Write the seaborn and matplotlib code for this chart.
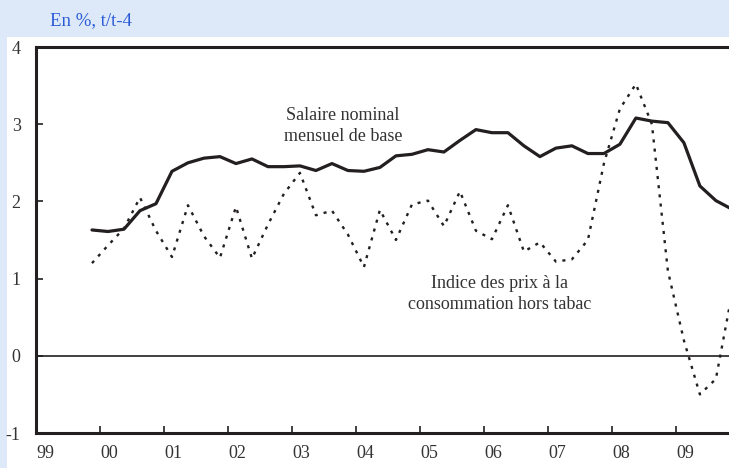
import numpy as np
import pandas as pd
import seaborn as sns
import matplotlib.pyplot as plt
from matplotlib.patches import Rectangle

# quarterly data, 1999Q4 -> 2009Q4 (yoy %, t/t-4)
quarters = pd.period_range('1999Q4', '2009Q4', freq='Q')
salaire = [1.63,
           1.61, 1.64, 1.88, 1.97,
           2.39, 2.50, 2.56, 2.58,
           2.49, 2.55, 2.45, 2.45,
           2.46, 2.40, 2.49, 2.40,
           2.39, 2.44, 2.59, 2.61,
           2.67, 2.64, 2.79, 2.93,
           2.89, 2.89, 2.72, 2.58,
           2.69, 2.72, 2.62, 2.62,
           2.74, 3.08, 3.04, 3.02,
           2.76, 2.20, 2.01, 1.90]
prix = [1.20,
        1.43, 1.65, 2.05, 1.62,
        1.28, 1.95, 1.55, 1.27,
        1.93, 1.26, 1.70, 2.10,
        2.37, 1.82, 1.88, 1.57,
        1.15, 1.89, 1.50, 1.96,
        2.01, 1.68, 2.13, 1.62,
        1.51, 1.95, 1.35, 1.47,
        1.22, 1.25, 1.50, 2.49,
        3.20, 3.52, 3.00, 1.10,
        0.20, -0.50, -0.30, 0.80]
years = list(range(1999, 2010))
year_labels = ['99', '00', '01', '02', '03', '04', '05', '06', '07', '08', '09']

# quarter -> decimal year, centred inside the quarter
xq = quarters.year + (quarters.quarter - 1) / 4 + 0.125
df = pd.DataFrame({'t': xq, 'salaire': salaire, 'prix': prix})

sns.set_style('ticks')
plt.rcParams['font.family'] = ['Liberation Serif', 'DejaVu Serif']

bg = '#dde9f8'
fig = plt.figure(figsize=(7.29, 4.68), dpi=100, facecolor=bg)
fig.patches.append(Rectangle((7 / 729, 0), 1, (468 - 37) / 468, transform=fig.transFigure,
                             facecolor='white', edgecolor='none', zorder=-5))
fig.text(50 / 729, 1 - 21 / 468, 'En %, t/t-4', color='#2a5bd7', fontsize=13.5,
         va='center', ha='left')

ax = fig.add_axes([36 / 729, 35 / 468, 1 - 36 / 729, (433 - 47) / 468])
ax.set_facecolor('none')

sns.lineplot(data=df, x='t', y='salaire', ax=ax, color='#231f20', lw=2.3)
sns.lineplot(data=df, x='t', y='prix', ax=ax, color='#231f20', lw=1.7,
             linestyle=(0, (1.3, 2.6)))
ax.axhline(0, color='#231f20', lw=1.2)

ax.set_xlim(1999, 2009.83)
ax.set_ylim(-1, 4)
ax.set_xticks(years)
ax.set_xticklabels(year_labels, ha='left')
ax.set_yticks([-1, 0, 1, 2, 3, 4])
ax.set_yticklabels(['-1', '0', '1', '2', '3', '4'])
ax.tick_params(axis='both', direction='in', length=5, width=1.2, color='#231f20',
               labelsize=13, labelcolor='#333333')
ax.tick_params(axis='y', pad=11)
ax.tick_params(axis='x', pad=9)
ax.set_xlabel('')
ax.set_ylabel('')

for side in ['left', 'bottom', 'top']:
    ax.spines[side].set_linewidth(2.2)
    ax.spines[side].set_color('#231f20')
ax.spines['right'].set_visible(False)

ax.text(2003.8, 2.98, 'Salaire nominal\nmensuel de base', ha='center', va='center',
        fontsize=13, color='#333333', linespacing=1.3)
ax.text(2006.25, 0.80, 'Indice des prix à la\nconsommation hors tabac', ha='center',
        va='center', fontsize=13, color='#333333', linespacing=1.3)

plt.savefig('out.png', dpi=100, facecolor=bg)
